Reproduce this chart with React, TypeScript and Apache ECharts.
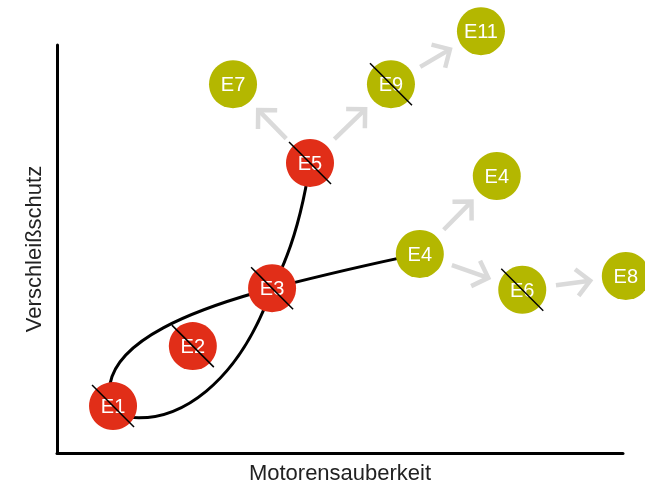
import React, { useEffect, useRef } from 'react';
import * as echarts from 'echarts';

// Nodes (data units: x 0..100 = Motorensauberkeit, y 0..100 = Verschleißschutz)
const nodeNames = ['E1', 'E2', 'E3', 'E5', 'E4', 'E4', 'E6', 'E8', 'E7', 'E9', 'E11'];
const nodeX = [9.9, 24.0, 38.0, 44.7, 64.1, 77.7, 82.2, 100.5, 31.1, 59.0, 74.9];
const nodeY = [11.5, 26.2, 40.4, 71.1, 48.8, 67.9, 40.0, 43.4, 90.4, 90.4, 103.4];
const nodeKind = ['red', 'red', 'red', 'red', 'olive', 'olive', 'olive', 'olive', 'olive', 'olive', 'olive'];
const nodeStruck = [true, true, true, true, false, false, true, false, false, true, false];

// Arrows (index of source node -> index of target node)
const arrowFrom = [3, 3, 9, 4, 4, 6];
const arrowTo = [8, 9, 10, 5, 6, 7];

// Black development paths: cubic curves [x0,y0, cx1,cy1, cx2,cy2, x3,y3] in data units
const pathUpper = [9.36, 16.9, 10.78, 27.7, 23.5, 35.0, 38.0, 40.4];
const pathLower = [11.1, 9.1, 21.7, 6.1, 32.3, 17.9, 38.0, 40.4];
const pathUp = [38.0, 40.4, 41.2, 48.5, 43.3, 58.3, 44.7, 71.1];
const pathRight = [38.0, 40.4, 46.5, 43.4, 55.3, 46.3, 64.1, 48.8];

const COLORS: Record<string, string> = { red: '#e12e18', olive: '#b4b700' };
const FONT = '"Liberation Sans", Arial, Helvetica, sans-serif';

export default function App() {
  const ref = useRef<HTMLDivElement>(null);
  useEffect(() => {
    if (!ref.current) return;
    const chart = echarts.init(ref.current, null, { renderer: 'svg' });

    const arrowData = arrowFrom.map((f, i) => [nodeX[f], nodeY[f], nodeX[arrowTo[i]], nodeY[arrowTo[i]]]);
    const strikeData = nodeNames.map((_, i) => [nodeX[i], nodeY[i]]).filter((_, i) => nodeStruck[i]);
    const curveData = [pathUpper, pathLower, pathUp, pathRight];

    const ARROW = '#dadada';
    const option: any = {
      animation: false,
      grid: { left: 57, right: 22, top: 45, bottom: 38 },
      xAxis: {
        type: 'value', min: 0, max: 100,
        name: 'Motorensauberkeit', nameLocation: 'middle', nameGap: 8,
        nameTextStyle: { fontFamily: FONT, fontSize: 22, color: '#222' },
        axisLine: { show: true, lineStyle: { color: '#000', width: 3 } },
        axisTick: { show: false }, axisLabel: { show: false }, splitLine: { show: false },
      },
      yAxis: {
        type: 'value', min: 0, max: 100,
        name: 'Verschleißschutz', nameLocation: 'middle', nameGap: 13,
        nameTextStyle: { fontFamily: FONT, fontSize: 22, color: '#222' },
        axisLine: { show: true, lineStyle: { color: '#000', width: 3 } },
        axisTick: { show: false }, axisLabel: { show: false }, splitLine: { show: false },
      },
      series: [
        {
          type: 'custom',
          z: 2,
          silent: true,
          encode: { x: [0, 2, 4, 6], y: [1, 3, 5, 7] },
          data: curveData,
          renderItem: (params: any, api: any) => {
            const p0 = api.coord([api.value(0), api.value(1)]);
            const p1 = api.coord([api.value(2), api.value(3)]);
            const p2 = api.coord([api.value(4), api.value(5)]);
            const p3 = api.coord([api.value(6), api.value(7)]);
            return {
              type: 'bezierCurve',
              shape: { x1: p0[0], y1: p0[1], cpx1: p1[0], cpy1: p1[1], cpx2: p2[0], cpy2: p2[1], x2: p3[0], y2: p3[1] },
              style: { stroke: '#000', lineWidth: 3, fill: null },
            };
          },
        },
        {
          type: 'custom',
          z: 2,
          silent: true,
          encode: { x: [0, 2], y: [1, 3] },
          data: arrowData,
          renderItem: (params: any, api: any) => {
            const p1 = api.coord([api.value(0), api.value(1)]);
            const p2 = api.coord([api.value(2), api.value(3)]);
            const dx = p2[0] - p1[0];
            const dy = p2[1] - p1[1];
            const len = Math.hypot(dx, dy);
            const ux = dx / len;
            const uy = dy / len;
            const s = [p1[0] + ux * 34, p1[1] + uy * 34];
            const t = [p2[0] - ux * 36, p2[1] - uy * 36];
            const bx = -ux;
            const by = -uy;
            const c = Math.SQRT1_2;
            const ARM = 19;
            const a1 = [t[0] + ARM * c * (bx - by), t[1] + ARM * c * (bx + by)];
            const a2 = [t[0] + ARM * c * (bx + by), t[1] + ARM * c * (-bx + by)];
            return {
              type: 'group',
              children: [
                { type: 'line', shape: { x1: s[0], y1: s[1], x2: t[0], y2: t[1] }, style: { stroke: ARROW, lineWidth: 4.5 } },
                { type: 'polyline', shape: { points: [a1, t, a2] }, style: { stroke: ARROW, lineWidth: 4.5, fill: null, lineJoin: 'miter' } },
              ],
            };
          },
        },
        {
          type: 'scatter',
          z: 3,
          clip: false,
          symbolSize: 48,
          silent: true,
          data: nodeNames.map((n, i) => ({
            name: n,
            value: [nodeX[i], nodeY[i]],
            itemStyle: { color: COLORS[nodeKind[i]], opacity: 1 },
          })),
          label: {
            show: true,
            position: 'inside',
            formatter: '{b}',
            color: '#fff',
            fontFamily: FONT,
            fontSize: 20,
          },
        },
        {
          type: 'custom',
          z: 4,
          silent: true,
          data: strikeData,
          renderItem: (params: any, api: any) => {
            const p = api.coord([api.value(0), api.value(1)]);
            return {
              type: 'line',
              shape: { x1: p[0] - 21, y1: p[1] - 21, x2: p[0] + 21, y2: p[1] + 21 },
              style: { stroke: '#000', lineWidth: 1.5 },
            };
          },
        },
      ],
    };
    chart.setOption(option);
    return () => chart.dispose();
  }, []);
  return <div ref={ref} style={{ position: 'fixed', left: 0, top: 0, width: 645, height: 491 }} />;
}
